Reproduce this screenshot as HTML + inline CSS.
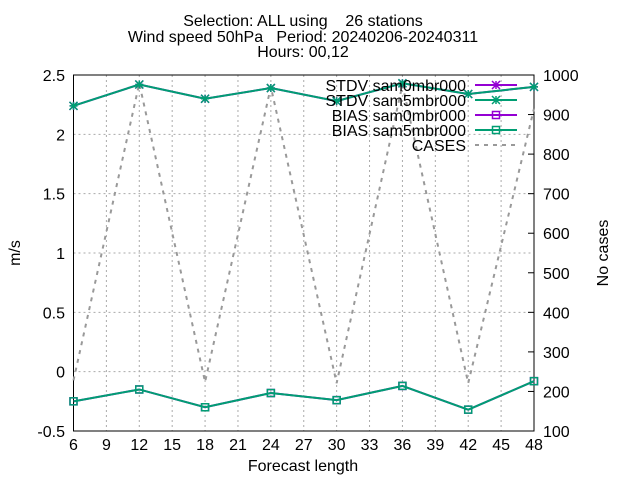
<!DOCTYPE html>
<html><head><meta charset="utf-8"><style>
body{margin:0;background:#fff}
svg text{font-family:"Liberation Sans",sans-serif;font-size:16px;fill:#000}
</style></head><body>
<svg id="c" width="640" height="480"></svg>
<script>
const steps=[6,12,18,24,30,36,42,48];
const stdv0=[2.24,2.42,2.30,2.39,2.28,2.43,2.34,2.40];
const stdv5=[2.24,2.42,2.30,2.39,2.28,2.43,2.34,2.40];
const bias0=[-0.25,-0.15,-0.30,-0.18,-0.24,-0.12,-0.32,-0.08];
const bias5=[-0.25,-0.15,-0.30,-0.18,-0.24,-0.12,-0.32,-0.08];
const cases=[228,979,224,970,221,975,221,915];
const xTicks=[6,9,12,15,18,21,24,27,30,33,36,39,42,45,48];
const yTicks=[-0.5,0,0.5,1,1.5,2,2.5];
const y2Ticks=[100,200,300,400,500,600,700,800,900,1000];
const L=73.5,R=534,T=75,B=431;
const X=v=>L+(v-6)/42*(R-L);
const Y=v=>B-(v+0.5)/3*(B-T);
const Y2=v=>B-(v-100)/900*(B-T);
const svg=document.getElementById('c');const NS='http://www.w3.org/2000/svg';
function el(t,a,p){const e=document.createElementNS(NS,t);for(const k in a)e.setAttribute(k,a[k]);(p||svg).appendChild(e);return e;}
function txt(x,y,s,anchor){const e=el('text',{x:x,y:y,'text-anchor':anchor||'middle'});e.textContent=s;return e;}
xTicks.forEach(v=>{const g=el('line',{x1:X(v),x2:X(v),y1:T,y2:B,stroke:'#aaa','stroke-dasharray':'2,3','stroke-width':1});


const t=txt(X(v),450,String(v));

});
yTicks.forEach(v=>{const g=el('line',{x1:L,x2:R,y1:Y(v),y2:Y(v),stroke:'#aaa','stroke-dasharray':'2,3','stroke-width':1});


const t=txt(65,Y(v)+6,String(v),'end');

});
y2Ticks.forEach(v=>{const t=txt(543,Y2(v)+6,String(v),'start');


el('line',{x1:R-6,x2:R,y1:Y2(v),y2:Y2(v),stroke:'#000'});});
const fr=el('rect',{x:L,y:T,width:R-L,height:B-T,fill:'none',stroke:'#000','stroke-width':1});


function star(x,y,c,g){el('path',{d:`M${x-4},${y-4}L${x+4},${y+4}M${x-4},${y+4}L${x+4},${y-4}M${x-4},${y}L${x+4},${y}M${x},${y-4}L${x},${y+4}`,stroke:c,'stroke-width':1.5,fill:'none'},g);}
function sq(x,y,c,g){el('rect',{x:x-3.5,y:y-3.5,width:7,height:7,fill:'none',stroke:c,'stroke-width':1.5},g);}
function series(vals,c,mk,name){const g=el('g',{});
el('polyline',{points:vals.map((v,i)=>X(steps[i])+','+Y(v)).join(' '),fill:'none',stroke:c,'stroke-width':2},g);
vals.forEach((v,i)=>mk(X(steps[i]),Y(v),c,g));}
const cg=el('polyline',{points:cases.map((v,i)=>X(steps[i])+','+Y2(v)).join(' '),fill:'none',stroke:'#999','stroke-width':2,'stroke-dasharray':'4,5'});


series(stdv0,'#9400d3',star,'stdv-sam0-line');
series(bias0,'#9400d3',sq,'bias-sam0-line');
series(stdv5,'#009e73',star,'stdv-sam5-line');
series(bias5,'#009e73',sq,'bias-sam5-line');
const leg=[['STDV sam0mbr000','#9400d3',star],['STDV sam5mbr000','#009e73',star],['BIAS sam0mbr000','#9400d3',sq],['BIAS sam5mbr000','#009e73',sq],['CASES','#999',null]];
leg.forEach((l,i)=>{const y=85+i*15;const g=el('g',{});
const t=el('text',{x:466,y:y+6,'text-anchor':'end'},g);t.textContent=l[0];
if(l[2]){el('line',{x1:475,x2:517,y1:y,y2:y,stroke:l[1],'stroke-width':2},g);l[2](496,y,l[1],g);}
else el('line',{x1:475,x2:517,y1:y,y2:y,stroke:l[1],'stroke-width':2,'stroke-dasharray':'4,5'},g);});
[['Selection: ALL using    26 stations',26],['Wind speed 50hPa   Period: 20240206-20240311',42],['Hours: 00,12',57]].forEach(a=>{const t=txt(303,a[1],a[0]);t.style.whiteSpace='pre';});
const xt=txt(303,471,'Forecast length');
const yt=el('text',{x:0,y:0,'text-anchor':'middle',transform:'translate(20,253) rotate(-90)'});yt.textContent='m/s';
const y2t=el('text',{x:0,y:0,'text-anchor':'middle',transform:'translate(608,253) rotate(-90)'});y2t.textContent='No cases';
</script>
</body></html>
